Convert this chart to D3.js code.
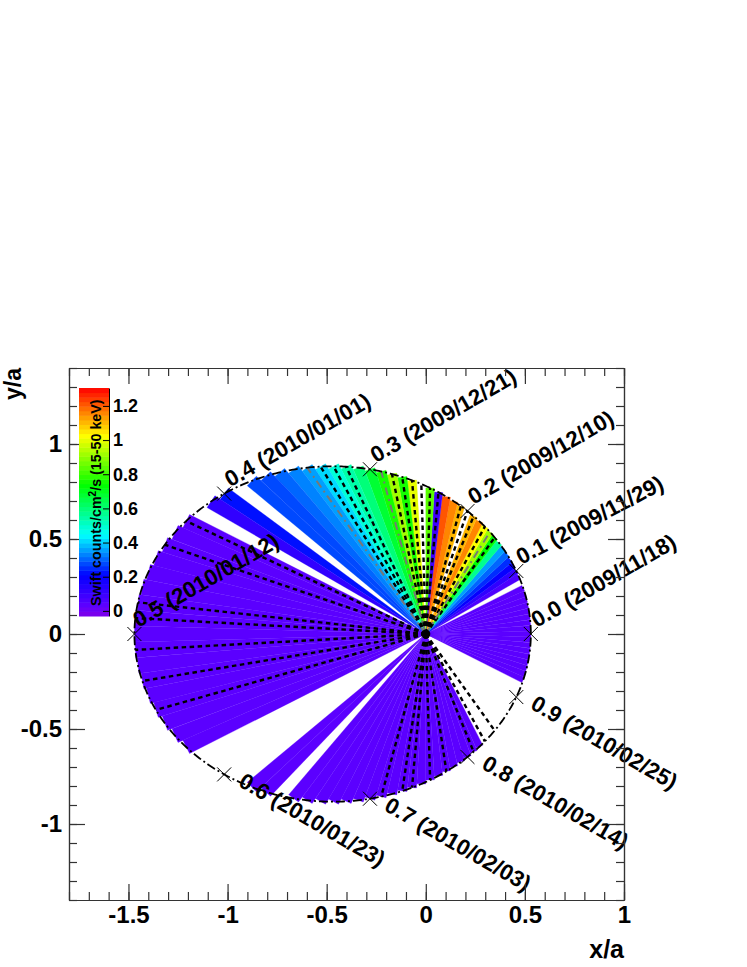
<!DOCTYPE html>
<html>
<head>
<meta charset="utf-8">
<script src="https://cdn.jsdelivr.net/npm/d3@7"></script>
<style>
    body { margin: 0; background: #fff; }
    text { font-family: "Liberation Sans", Arial, sans-serif; font-weight: bold; fill: #000; }
</style>
</head>
<body>
<svg id="chart" width="747" height="967"></svg>
<script>
// daily Swift rate, one entry per day of the 110 day orbit, null = no data
var swiftRate = [
    0.03, 0.03, 0.03, 0.03, 0.03, 0.03, 0.03, 0.03, 0.03, null,
    0.06, 0.12, 0.20, 0.25, 0.31, 0.37, 0.58, 0.74, 0.92, 1.03,
    1.16, 1.10, null, 1.10, 1.16, 1.20, 0.10, 0.85, null, 0.99,
    0.76, 0.92, 0.75, 0.68, 0.61, 0.55, 0.48, 0.41, 0.37, 0.335,
    0.30, 0.283, 0.27, null, 0.22, 0.13, null, 0.03, 0.03, 0.03,
    0.03, 0.03, 0.03, 0.03, 0.03, 0.03, 0.03, 0.03, 0.03, 0.03,
    0.03, 0.03, 0.03, 0.03, null, null, null, null, 0.03, 0.03,
    null, 0.03, 0.03, 0.03, 0.03, 0.03, 0.03, 0.03, 0.03, 0.03,
    0.03, 0.03, 0.03, 0.03, 0.03, 0.03, 0.03, 0.03, 0.03, 0.03,
    0.03, null, null, null, null, null, null, null, null, null,
    null, null, 0.03, 0.03, 0.03, 0.03, 0.03, 0.03, 0.03, 0.03
];

// days that have a dashed line, black and grey ones
var blackDays = [17, 19, 21, 22, 23, 26, 27, 28, 29, 30, 31, 35, 36, 37,
    47, 49, 53, 54, 56, 58, 60, 78, 80, 81, 83, 85, 89, 91, 93];
var greyDays = [18, 32, 38];

var markPhases = [0, 0.1, 0.2, 0.3, 0.4, 0.5, 0.6, 0.7, 0.8, 0.9];
var markDates = ["2009/11/18", "2009/11/29", "2009/12/10", "2009/12/21", "2010/01/01",
    "2010/01/12", "2010/01/23", "2010/02/03", "2010/02/14", "2010/02/25"];

var xMajor = [-1.5, -1, -0.5, 0, 0.5, 1];
var yMajor = [-1, -0.5, 0, 0.5, 1];
var barTicks = [0, 0.2, 0.4, 0.6, 0.8, 1, 1.2];

var period = 110,
    ecc = 0.47;

var svg = d3.select("#chart");

var left = 69, right = 624, top_ = 368, bottom = 900;

var x = d3.scaleLinear().domain([-1.8, 1]).range([left, right]);
var y = d3.scaleLinear().domain([-1.4, 1.4]).range([bottom, top_]);

// rainbow palette of the colour bar, cut in 50 levels like the original
var rateRange = [-0.03, 1.305];
var rainbow = d3.scaleLinear()
    .domain([-0.03, 0.03, 0.21, 0.445, 0.735, 1.026, 1.305])
    .range(["#8000e8", "#5f00ff", "#0000ff", "#00ffff", "#00ff00", "#ffff00", "#ff0000"]);
var levels = d3.range(50).map(function(i) {
    return rateRange[0] + (i + 0.5) * (rateRange[1] - rateRange[0]) / 50;
});
var color = d3.scaleQuantize().domain(rateRange).range(levels.map(function(v) { return rainbow(v); }));

function orbitR(angle) {
    return (1 - ecc * ecc) / (1 + ecc * Math.cos(angle));
}
function dayAngle(day) {
    return 2 * Math.PI * day / period;
}
function polar(angle, r) {
    return [x(r * Math.cos(angle)), y(r * Math.sin(angle))];
}

// wedges
var wedgeData = swiftRate.map(function(rate, day) { return {day: day, rate: rate}; })
    .filter(function(d) { return d.rate !== null; });

svg.append("g").attr("class", "wedges")
    .selectAll("path")
    .data(wedgeData)
    .enter().append("path")
    .attr("fill", function(d) { return color(d.rate); })
    .attr("stroke", function(d) { return color(d.rate); })
    .attr("stroke-width", 0.3)
    .attr("d", function(d) {
        var r = orbitR(dayAngle(d.day));
        return d3.line()([polar(0, 0), polar(dayAngle(d.day - 0.5), r), polar(dayAngle(d.day + 0.5), r)]) + "Z";
    });

// dashed lines from the focus to the orbit
function rays(days, cls, stroke, dash, width) {
    svg.append("g").attr("class", cls)
        .selectAll("line")
        .data(days)
        .enter().append("line")
        .attr("x1", x(0))
        .attr("y1", y(0))
        .attr("x2", function(d) { return polar(dayAngle(d), orbitR(dayAngle(d)))[0]; })
        .attr("y2", function(d) { return polar(dayAngle(d), orbitR(dayAngle(d)))[1]; })
        .attr("stroke", stroke)
        .attr("stroke-width", width)
        .attr("stroke-dasharray", dash);
}
rays(blackDays, "rays", "#000", "4.5,3.5", 2.4);
rays(greyDays, "grayRays", "#777", "8,4,2,4", 2);

// orbit
var orbitLine = d3.line()
    .x(function(a) { return polar(a, orbitR(a))[0]; })
    .y(function(a) { return polar(a, orbitR(a))[1]; });

svg.append("path")
    .attr("class", "orbit")
    .attr("fill", "none")
    .attr("stroke", "#000")
    .attr("stroke-width", 1.8)
    .attr("stroke-dasharray", "9,3,2,3")
    .attr("d", orbitLine(d3.range(0, 2 * Math.PI + 0.01, 0.01)));

svg.append("circle")
    .attr("cx", x(0))
    .attr("cy", y(0))
    .attr("r", 4.5)
    .attr("fill", "#000");

// phase markers and their labels
var marks = svg.append("g").attr("class", "marks")
    .selectAll("g")
    .data(markPhases)
    .enter().append("g")
    .attr("transform", function(d) {
        var a = 2 * Math.PI * d;
        return "translate(" + polar(a, orbitR(a)) + ")";
    });

marks.append("path")
    .attr("d", "M-7,-7L7,7M-7,7L7,-7")
    .attr("stroke", "#000")
    .attr("stroke-width", 1)
    .attr("fill", "none");

marks.append("text")
    .attr("font-size", 22.4)
    .attr("transform", function(d) {
        if (d > 0.5) return "translate(13,11) rotate(30)";
        if (d === 0.5) return "translate(4,-6) rotate(-30)";
        if (d === 0.1) return "translate(5,-6) rotate(-28)";
        return "translate(6,-6) rotate(-30)";
    })
    .text(function(d, i) { return d.toFixed(1) + " (" + markDates[i] + ")"; });

// frame and ticks, all pointing inward
function tickAxis(axis, pos, values, size, labelled) {
    var g = svg.append("g")
        .attr("transform", pos)
        .call(axis.tickValues(values).tickSize(-size).tickSizeOuter(0)
            .tickFormat(labelled ? function(d) { return String(d); } : ""));
    g.selectAll("line").attr("stroke", "#333").attr("stroke-width", 1.2);
    g.select(".domain").attr("stroke", "#333").attr("stroke-width", 1.2);
    g.selectAll("text").attr("font-size", 24);
    return g;
}

var xMinor = d3.range(-18, 11).map(function(d) { return d / 10; });
var yMinor = d3.range(-14, 15).map(function(d) { return d / 10; });

tickAxis(d3.axisBottom(x), "translate(0," + bottom + ")", xMinor, 8, false);
tickAxis(d3.axisBottom(x).tickPadding(6), "translate(0," + bottom + ")", xMajor, 16, true);
tickAxis(d3.axisTop(x), "translate(0," + top_ + ")", xMinor, 8, false);
tickAxis(d3.axisTop(x), "translate(0," + top_ + ")", xMajor, 16, false);
tickAxis(d3.axisLeft(y), "translate(" + left + ",0)", yMinor, 8, false);
tickAxis(d3.axisLeft(y).tickPadding(7), "translate(" + left + ",0)", yMajor, 16, true);
tickAxis(d3.axisRight(y), "translate(" + right + ",0)", yMinor, 8, false);
tickAxis(d3.axisRight(y), "translate(" + right + ",0)", yMajor, 16, false);

svg.append("text")
    .attr("x", right)
    .attr("y", 958)
    .attr("text-anchor", "end")
    .attr("font-size", 25)
    .text("x/a");

svg.append("text")
    .attr("transform", "translate(21," + top_ + ") rotate(-90)")
    .attr("text-anchor", "end")
    .attr("font-size", 23)
    .text("y/a");

// colour bar
var barLeft = 79, barRight = 109;
var barY = d3.scaleLinear().domain(rateRange).range([616, 388]);

svg.append("g").attr("class", "colorbar")
    .selectAll("rect")
    .data(levels)
    .enter().append("rect")
    .attr("x", barLeft)
    .attr("width", barRight - barLeft)
    .attr("y", function(d, i) { return barY(rateRange[0] + (i + 1) * (rateRange[1] - rateRange[0]) / 50); })
    .attr("height", (barY.range()[0] - barY.range()[1]) / 50 + 0.5)
    .attr("fill", function(d) { return rainbow(d); });

var barAxis = svg.append("g")
    .attr("transform", "translate(" + barRight + ",0)")
    .call(d3.axisRight(barY).tickValues(barTicks).tickSize(-6).tickSizeOuter(0).tickPadding(4)
        .tickFormat(function(d) { return String(d); }));
barAxis.selectAll("text").attr("font-size", 18);
barAxis.selectAll("line").attr("stroke", "#000");
barAxis.select(".domain").attr("stroke", "#000");

var barTitle = svg.append("text")
    .attr("transform", "translate(101,606) rotate(-90)")
    .attr("font-size", 14.3);
barTitle.append("tspan").text("Swift counts/cm");
barTitle.append("tspan").attr("dy", -5).attr("font-size", 10).text("2");
barTitle.append("tspan").attr("dy", 5).text("/s (15-50 keV)");
</script>
</body>
</html>
